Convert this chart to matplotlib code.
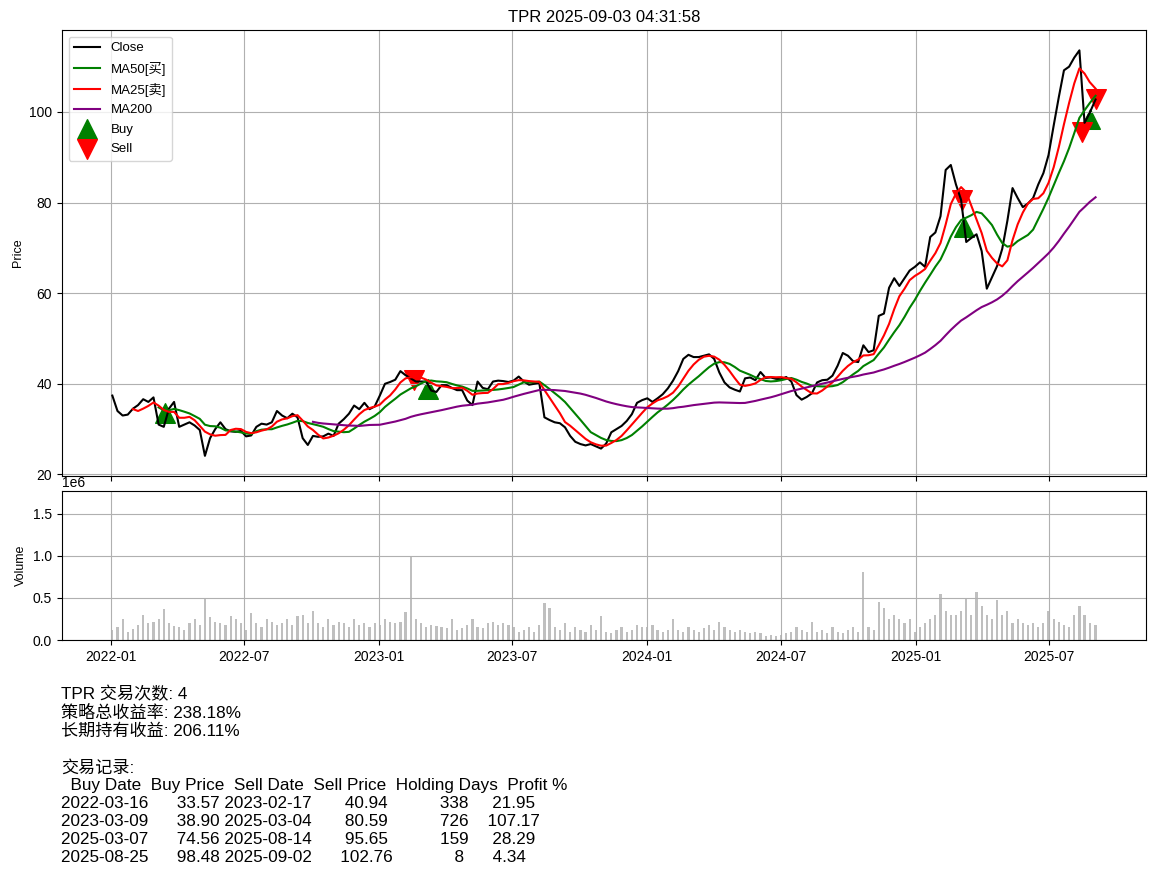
import matplotlib
matplotlib.use("Agg")
import matplotlib.pyplot as plt
import numpy as np
import pandas as pd

plt.rcParams['font.family'] = ['Liberation Sans', 'Noto Sans CJK SC', 'DejaVu Sans']
plt.rcParams['axes.unicode_minus'] = False

TICKER = "TPR"
RUN_STAMP = "2025-09-03 04:31:58"

# weekly samples (Mondays) of the daily close, last point 2025-09-02
close = [
    37.4, 34.0, 33.0, 33.2, 34.5, 35.3, 36.6, 36.0, 37.0, 31.0,
    30.5, 34.5, 36.0, 30.5, 31.0, 31.5, 30.8, 29.8, 24.1, 28.0,
    30.0, 31.5, 30.0, 29.5, 29.4, 29.6, 28.4, 28.6, 30.5, 31.2,
    31.0, 31.5, 34.0, 33.0, 32.4, 33.4, 32.6, 28.0, 26.5, 28.5,
    28.3, 28.4, 29.0, 28.5, 31.2, 32.2, 33.4, 35.2, 34.4, 35.8,
    34.4, 35.0, 37.4, 40.0, 40.4, 40.9, 42.8, 41.9, 41.2, 40.5,
    40.5, 40.5, 38.5, 38.2, 39.7, 39.7, 39.1, 38.6, 38.6, 36.3,
    35.3, 40.5, 39.1, 38.8, 40.5, 40.7, 40.6, 40.4, 40.7, 41.6,
    40.5, 39.8, 40.0, 40.2, 32.6, 32.0, 31.5, 31.3, 30.4, 28.5,
    27.2, 26.7, 26.4, 26.7, 26.2, 25.7, 26.8, 29.3, 30.0, 30.7,
    31.8, 33.3, 35.8, 36.4, 36.8, 36.0, 36.8, 37.7, 39.0, 40.7,
    42.8, 45.5, 46.4, 45.9, 45.9, 46.2, 46.5, 45.5, 42.5, 40.3,
    39.2, 38.7, 38.3, 41.2, 41.4, 40.8, 42.6, 41.3, 41.4, 41.1,
    41.0, 41.5, 40.5, 37.5, 36.5, 37.1, 37.9, 40.3, 40.8, 40.9,
    41.8, 44.0, 46.8, 46.2, 45.0, 44.8, 48.5, 47.0, 47.4, 55.0,
    55.5, 61.2, 63.3, 61.6, 63.3, 65.0, 65.8, 66.8, 65.8, 72.4,
    73.4, 77.0, 87.2, 88.3, 84.0, 80.6, 71.3, 72.2, 73.0, 69.3,
    61.0, 63.5, 66.0, 69.8, 76.0, 83.2, 81.0, 79.0, 79.8, 81.0,
    84.0, 86.5, 90.5, 97.0, 103.3, 109.2, 110.0, 112.0, 113.6, 97.6,
    99.8, 102.76,
]

# volume in millions, same dates
volume_m = [
    0.12, 0.15, 0.25, 0.1, 0.13, 0.18, 0.3, 0.2, 0.22, 0.25, 0.37, 0.2, 0.17, 0.15, 0.12, 0.2, 0.25,
    0.18, 0.5, 0.27, 0.22, 0.2,
    0.18, 0.28, 0.25, 0.2, 0.12, 0.32, 0.2, 0.15, 0.25, 0.22, 0.18, 0.2, 0.25, 0.18, 0.28,
    0.3, 0.2, 0.35, 0.2, 0.15, 0.25, 0.18, 0.22, 0.2, 0.15, 0.25, 0.18, 0.2, 0.15, 0.2,
    0.18, 0.25, 0.22, 0.2, 0.22, 0.33, 0.98, 0.25, 0.2, 0.15, 0.18, 0.17, 0.15,
    0.14, 0.25, 0.12, 0.14, 0.18, 0.25, 0.15, 0.14, 0.2, 0.22, 0.18, 0.2, 0.18, 0.15, 0.1, 0.12, 0.15, 0.1,
    0.18, 0.44, 0.38, 0.15,
    0.12, 0.2, 0.1, 0.15, 0.12, 0.1, 0.18, 0.12, 0.28, 0.1, 0.08, 0.12, 0.15, 0.1, 0.12, 0.18, 0.15,
    0.15, 0.18, 0.12, 0.1, 0.12, 0.25, 0.12, 0.1, 0.15, 0.12, 0.1, 0.14, 0.18, 0.12, 0.22, 0.15,
    0.12, 0.1, 0.12, 0.1, 0.08, 0.1, 0.08, 0.05, 0.06, 0.05,
    0.06, 0.08, 0.1, 0.15, 0.12, 0.1, 0.22, 0.1, 0.12, 0.08, 0.15, 0.1, 0.08, 0.12, 0.15, 0.1, 0.81, 0.15, 0.12,
    0.45, 0.38, 0.25, 0.3,
    0.25, 0.2, 0.25, 0.1,
    0.15, 0.2, 0.25, 0.3, 0.55, 0.35, 0.3, 0.3, 0.35, 0.5, 0.3, 0.57, 0.4, 0.3, 0.25, 0.48, 0.3,
    0.35, 0.2, 0.25, 0.2, 0.18, 0.2, 0.15, 0.2, 0.35, 0.25, 0.22, 0.18, 0.15, 0.3, 0.4, 0.3, 0.2, 0.18,
]

buy_dates = ["2022-03-16", "2023-03-09", "2025-03-07", "2025-08-25"]
buy_prices = [33.57, 38.90, 74.56, 98.48]
sell_dates = ["2023-02-17", "2025-03-04", "2025-08-14", "2025-09-02"]
sell_prices = [40.94, 80.59, 95.65, 102.76]
holding_days = [338, 726, 159, 8]
profit_pct = [21.95, 107.17, 28.29, 4.34]

strategy_return = 238.18
buy_hold_return = 206.11

dates = list(pd.date_range("2022-01-03", periods=len(close) - 1, freq="7D")) + [pd.Timestamp("2025-09-02")]
df = pd.DataFrame({"Close": close, "Volume": np.array(volume_m) * 1e6}, index=pd.DatetimeIndex(dates))
# one row = one week, so 25/50/200 trading days -> 5/10/40 rows
df["MA25"] = df["Close"].rolling(5).mean()
df["MA50"] = df["Close"].rolling(10).mean()
df["MA200"] = df["Close"].rolling(40).mean()

fig = plt.figure(figsize=(11.56, 8.72), dpi=100)
ax1 = fig.add_axes([0.0536, 0.454, 0.9377, 0.5115])
ax2 = fig.add_axes([0.0536, 0.266, 0.9377, 0.171], sharex=ax1)

ax1.plot(df.index, df["Close"], color="black", lw=1.5, label="Close")
ax1.plot(df.index, df["MA50"], color="green", lw=1.5, label="MA50[买]")
ax1.plot(df.index, df["MA25"], color="red", lw=1.5, label="MA25[卖]")
ax1.plot(df.index, df["MA200"], color="purple", lw=1.5, label="MA200")
ax1.scatter(pd.to_datetime(buy_dates), buy_prices, marker="^", color="green", s=200, label="Buy")
ax1.scatter(pd.to_datetime(sell_dates), sell_prices, marker="v", color="red", s=200, label="Sell")
ax1.set_title(f"{TICKER} {RUN_STAMP}", fontsize=12)
ax1.set_ylabel("Price", fontsize=9)
ax1.legend(loc="upper left", fontsize=9.5, labelspacing=0.55)
ax1.grid(True)
ax1.tick_params(labelbottom=False)

ax2.bar(df.index, df["Volume"], width=3, color="gray", alpha=0.5)
ax2.set_ylabel("Volume", fontsize=9)
ax2.set_ylim(0, 1.77e6)
ax2.grid(True)

trades = pd.DataFrame({
    "Buy Date": buy_dates,
    "Buy Price": buy_prices,
    "Sell Date": sell_dates,
    "Sell Price": sell_prices,
    "Holding Days": holding_days,
    "Profit %": profit_pct,
})
summary = (f"{TICKER} 交易次数: {len(trades)}\n"
           f"策略总收益率: {strategy_return:.2f}%\n"
           f"长期持有收益: {buy_hold_return:.2f}%\n\n"
           f"交易记录:\n" + trades.to_string(index=False))
fig.text(0.053, 0.214, summary, fontsize=12.3, va="top", ha="left", linespacing=1.23)

fig.savefig("out.png", dpi=100)
